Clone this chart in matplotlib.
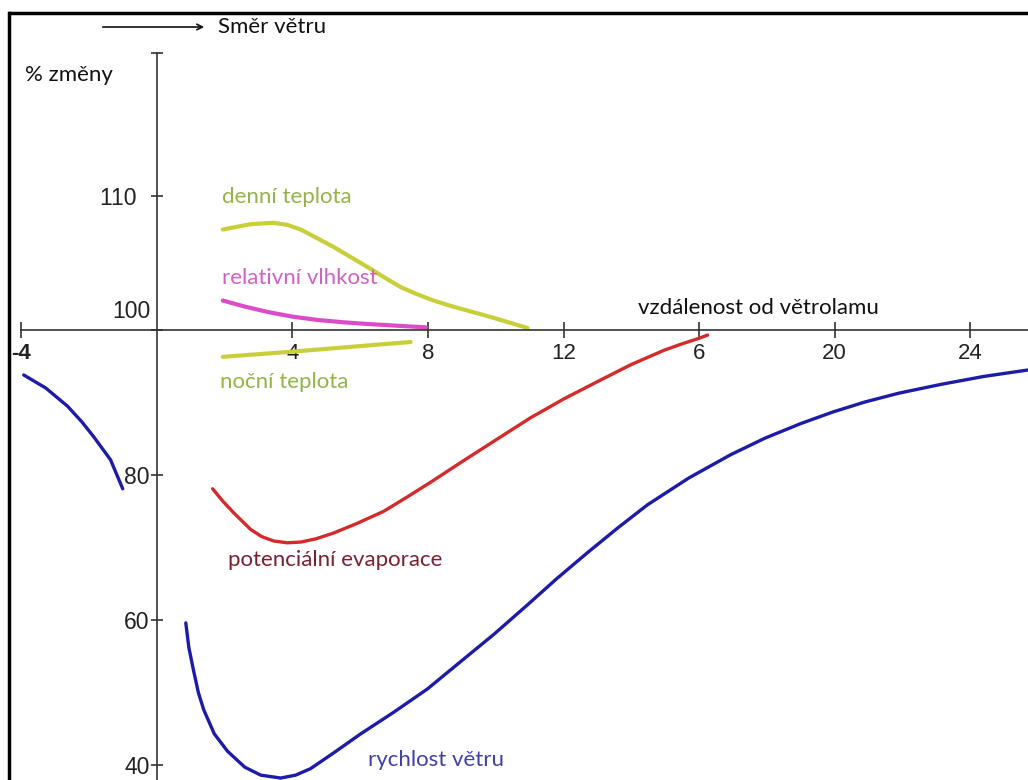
import numpy as np
import matplotlib
matplotlib.use('Agg')
import matplotlib.pyplot as plt
from matplotlib.lines import Line2D

# data: x = distance (multiples of windbreak height), y = % change
den_x = [1.95, 2.77, 3.45, 3.85, 4.25, 5.22, 6.22, 6.7, 7.20, 7.7, 8.17, 8.67, 9.17,
         9.67, 10.15, 10.94]
den_y = [107.5, 107.9, 108.0, 107.85, 107.5, 106.2, 104.7, 103.95, 103.2, 102.65, 102.2,
         101.8, 101.45, 101.1, 100.75, 100.15]

vlh_x = [1.95, 2.6, 3.27, 4.0, 4.75, 5.5, 6.22, 7.1, 7.94]
vlh_y = [102.2, 101.75, 101.35, 101.0, 100.75, 100.58, 100.45, 100.32, 100.2]

noc_x = [1.95, 3.95, 7.49]
noc_y = [96.3, 97.0, 98.35]

evap_x = [1.65, 1.95, 2.27, 2.77, 3.1, 3.45, 3.85, 4.25, 4.7, 5.22, 5.9, 6.70, 7.4,
          8.08, 9.06, 10.06, 11.03, 12.01, 13.01, 13.98, 14.96, 15.5, 15.96, 16.25]
evap_y = [78.1, 76.4, 74.8, 72.5, 71.5, 70.9, 70.65, 70.75, 71.2, 72.0, 73.3, 75.0, 77.0,
          79.0, 82.0, 85.0, 87.9, 90.5, 92.9, 95.2, 97.2, 98.1, 98.8, 99.3]

vitr_l_x = [-3.92, -3.27, -2.63, -2.2, -1.86, -1.36, -1.0]
vitr_l_y = [93.8, 92.0, 89.5, 87.3, 85.3, 82.1, 78.1]

vitr_x = [0.86, 0.95, 1.09, 1.23, 1.39, 1.7, 2.09, 2.6, 3.07, 3.66, 4.1, 4.54, 5.2,
          6.02, 7.0, 7.99, 8.95, 9.94, 10.94, 11.8, 12.71, 13.6, 14.48, 15.7, 16.93,
          17.95, 19.0, 19.95, 20.91, 21.9, 23.13, 24.4, 25.72]
vitr_y = [59.6, 56.2, 53.0, 50.0, 47.6, 44.3, 41.9, 39.7, 38.6, 38.2, 38.6, 39.5, 41.6,
          44.3, 47.3, 50.5, 54.2, 58.0, 62.1, 65.7, 69.3, 72.7, 75.9, 79.6, 82.8,
          85.1, 87.1, 88.7, 90.1, 91.3, 92.5, 93.6, 94.5]

xticks = [-4, 4, 8, 12, 16, 20, 24]
xtick_labels = ['-4', '4', '8', '12', '6', '20', '24']
yticks = [40, 60, 80, 100, 110]
ytick_labels = ['40', '60', '80', '', '110  ']

# nad 100 % je osa roztazena
k = 13.4 / 7.25


def fwd(v):
    v = np.asarray(v, dtype=float)
    return np.where(v > 100, 100 + (v - 100) * k, v)


def inv(u):
    u = np.asarray(u, dtype=float)
    return np.where(u > 100, 100 + (u - 100) / k, u)


txt_font = ['Lato', 'DejaVu Sans']
num_font = ['Liberation Sans', 'DejaVu Sans']

fig = plt.figure(figsize=(10.28, 7.8), dpi=100)
ax = fig.add_axes([0, 0, 1, 1])
ax.set_yscale('function', functions=(fwd, inv))
ax.set_xlim(-4.62, 25.70)
ax.set_ylim(37.93, 124.63)

for s in ['top', 'right']:
    ax.spines[s].set_visible(False)
ax.spines['left'].set_position(('data', 0))
ax.spines['bottom'].set_position(('data', 100))
ax.spines['left'].set_bounds(37.93, 120.67)
ax.spines['bottom'].set_bounds(-4, 25.72)
for s in ['left', 'bottom']:
    ax.spines[s].set_linewidth(1.2)
    ax.spines[s].set_color('#333333')
ax.patch.set_visible(False)

ax.set_xticks(xticks)
ax.set_xticklabels(xtick_labels, family=num_font, fontsize=16, color='#222222')
ax.get_xticklabels()[0].set_fontweight('bold')
ax.tick_params(axis='x', direction='inout', length=12, width=1.2, color='#333333', pad=3)

ax.set_yticks(yticks)
ax.set_yticklabels(ytick_labels, family=num_font, fontsize=16.5, color='#222222')
ax.tick_params(axis='y', direction='inout', length=8, width=1.2, color='#333333', pad=1)
ax.set_yticks([120.67], minor=True)
ax.tick_params(axis='y', which='minor', direction='inout', length=8, width=1.2,
               color='#333333')
# popisek 100 lezi nad osou x
fig.text(151 / 1028, 1 - 312 / 780, '100', family=num_font, fontsize=16.5,
         color='#222222', ha='right', va='center')

# krivky
ax.plot(den_x, den_y, color='#c9cf3a', lw=3, solid_capstyle='round')
ax.plot(vlh_x, vlh_y, color='#dc4cc8', lw=3, solid_capstyle='round')
ax.plot(noc_x, noc_y, color='#c9cf3a', lw=3, solid_capstyle='round')
ax.plot(evap_x, evap_y, color='#d42a2a', lw=2.4, solid_capstyle='round')
ax.plot(vitr_l_x, vitr_l_y, color='#1c1ca8', lw=2.4, solid_capstyle='round')
ax.plot(vitr_x, vitr_y, color='#1c1ca8', lw=2.4, solid_capstyle='round', clip_on=False)

# popisky
def label(px, py, s, color, **kw):
    fig.text(px / 1028, 1 - py / 780, s, color=color, family=txt_font,
             fontsize=16, va='center', **kw)


label(218, 27, 'Směr větru', '#111111')
label(25, 75, '% změny', '#111111')
label(222, 197, 'denní teplota', '#94b447')
label(222, 278, 'relativní vlhkost', '#d060c8')
label(220, 382, 'noční teplota', '#94b447')
label(228, 560, 'potenciální evaporace', '#7a2030')
label(368, 760, 'rychlost větru', '#4040a8')
label(638, 308, 'vzdálenost od větrolamu', '#111111')

# sipka smeru vetru
ax.annotate('', xy=(207 / 1028, 1 - 27 / 780), xytext=(100 / 1028, 1 - 27 / 780),
            xycoords='figure fraction', textcoords='figure fraction',
            arrowprops=dict(arrowstyle='->', lw=1.2, color='#111111'))

# ramecek obrazku
fig.add_artist(Line2D([10 / 1028, 1], [1 - 13 / 780, 1 - 13 / 780], color='black', lw=2.5))
fig.add_artist(Line2D([9 / 1028, 9 / 1028], [0, 1 - 13 / 780], color='black', lw=2.5))

fig.savefig('out.png', dpi=100, facecolor='white')
